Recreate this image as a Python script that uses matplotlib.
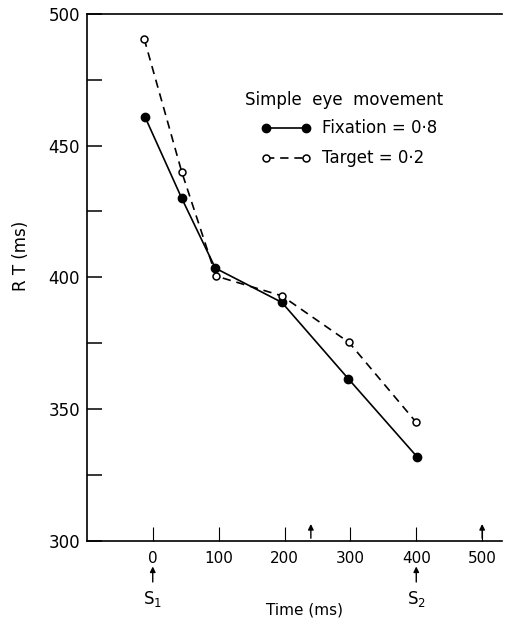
import matplotlib
matplotlib.use('Agg')
import matplotlib.pyplot as plt
from matplotlib.ticker import MultipleLocator

# Data
time_fix = [-12, 44, 95, 196, 297, 401]
rt_fix = [461, 430, 403.5, 390.5, 361.5, 332]
time_tgt = [-13, 44, 96, 196, 298, 400]
rt_tgt = [490.5, 440, 400.5, 393, 375.3, 345]

x_ticks = [0, 100, 200, 300, 400, 500]
up_arrows = [240, 500]          # arrows inside the axes
stim_times = [0, 400]            # S1, S2 markers below the axis
stim_labels = ['S$_1$', 'S$_2$']

legend_title = 'Simple  eye  movement'
fix_label = 'Fixation = 0·8'
tgt_label = 'Target = 0·2'

plt.rcParams['font.family'] = ['DejaVu Sans']

fig = plt.figure(figsize=(5.08, 6.24), dpi=100)
ax = fig.add_axes([0.171, 0.133, 0.817, 0.845])

fix_style = dict(color='black', lw=1.2, ls='-', marker='o', ms=6,
                 mfc='black', mec='black')
tgt_style = dict(color='black', lw=1.2, ls=(0, (5, 3.5)), marker='o', ms=5,
                 mfc='white', mec='black', mew=1.1)

ax.plot(time_fix, rt_fix, **fix_style)
ax.plot(time_tgt, rt_tgt, **tgt_style)

ax.set_xlim(-100, 530)
ax.set_ylim(300, 500)
ax.set_xticks(x_ticks)
ax.yaxis.set_major_locator(MultipleLocator(50))
ax.yaxis.set_minor_locator(MultipleLocator(25))
ax.tick_params(axis='y', which='both', direction='in', length=11, width=1.1,
               labelsize=12, pad=5)
ax.tick_params(axis='x', direction='in', length=10, width=0.8,
               labelsize=11, pad=7)

ax.spines['right'].set_visible(False)
for s in ['left', 'bottom', 'top']:
    ax.spines[s].set_linewidth(1.2)

ax.set_ylabel('R T (ms)', fontsize=12)
ax.yaxis.set_label_coords(-0.137, 0.54)
ax.set_xlabel('Time (ms)', fontsize=11)
ax.xaxis.set_label_coords(0.525, -0.117)

# small arrows standing on the x axis
for t in up_arrows:
    ax.annotate('', xy=(t, 307.5), xytext=(t, 300),
                arrowprops=dict(arrowstyle='-|>', color='black', lw=1,
                                mutation_scale=8))

# stimulus arrows below the axis
trans = ax.get_xaxis_transform()
for t, lab in zip(stim_times, stim_labels):
    ax.annotate('', xy=(t, -0.043), xytext=(t, -0.083), xycoords=trans,
                textcoords=trans, annotation_clip=False,
                arrowprops=dict(arrowstyle='-|>', color='black', lw=1,
                                mutation_scale=8))
    ax.text(t, -0.11, lab, transform=trans, ha='center', va='center',
            fontsize=12)

# legend drawn by hand: title, then indented samples
ta = ax.transAxes
ax.text(0.381, 0.837, legend_title, transform=ta, ha='left', va='center',
        fontsize=12)
ax.plot([0.432, 0.527], [0.784, 0.784], transform=ta, **fix_style)
ax.text(0.566, 0.784, fix_label, transform=ta, ha='left', va='center',
        fontsize=12)
ax.plot([0.432, 0.527], [0.727, 0.727], transform=ta, **tgt_style)
ax.text(0.566, 0.727, tgt_label, transform=ta, ha='left', va='center',
        fontsize=12)

fig.savefig('out.png', dpi=100)
